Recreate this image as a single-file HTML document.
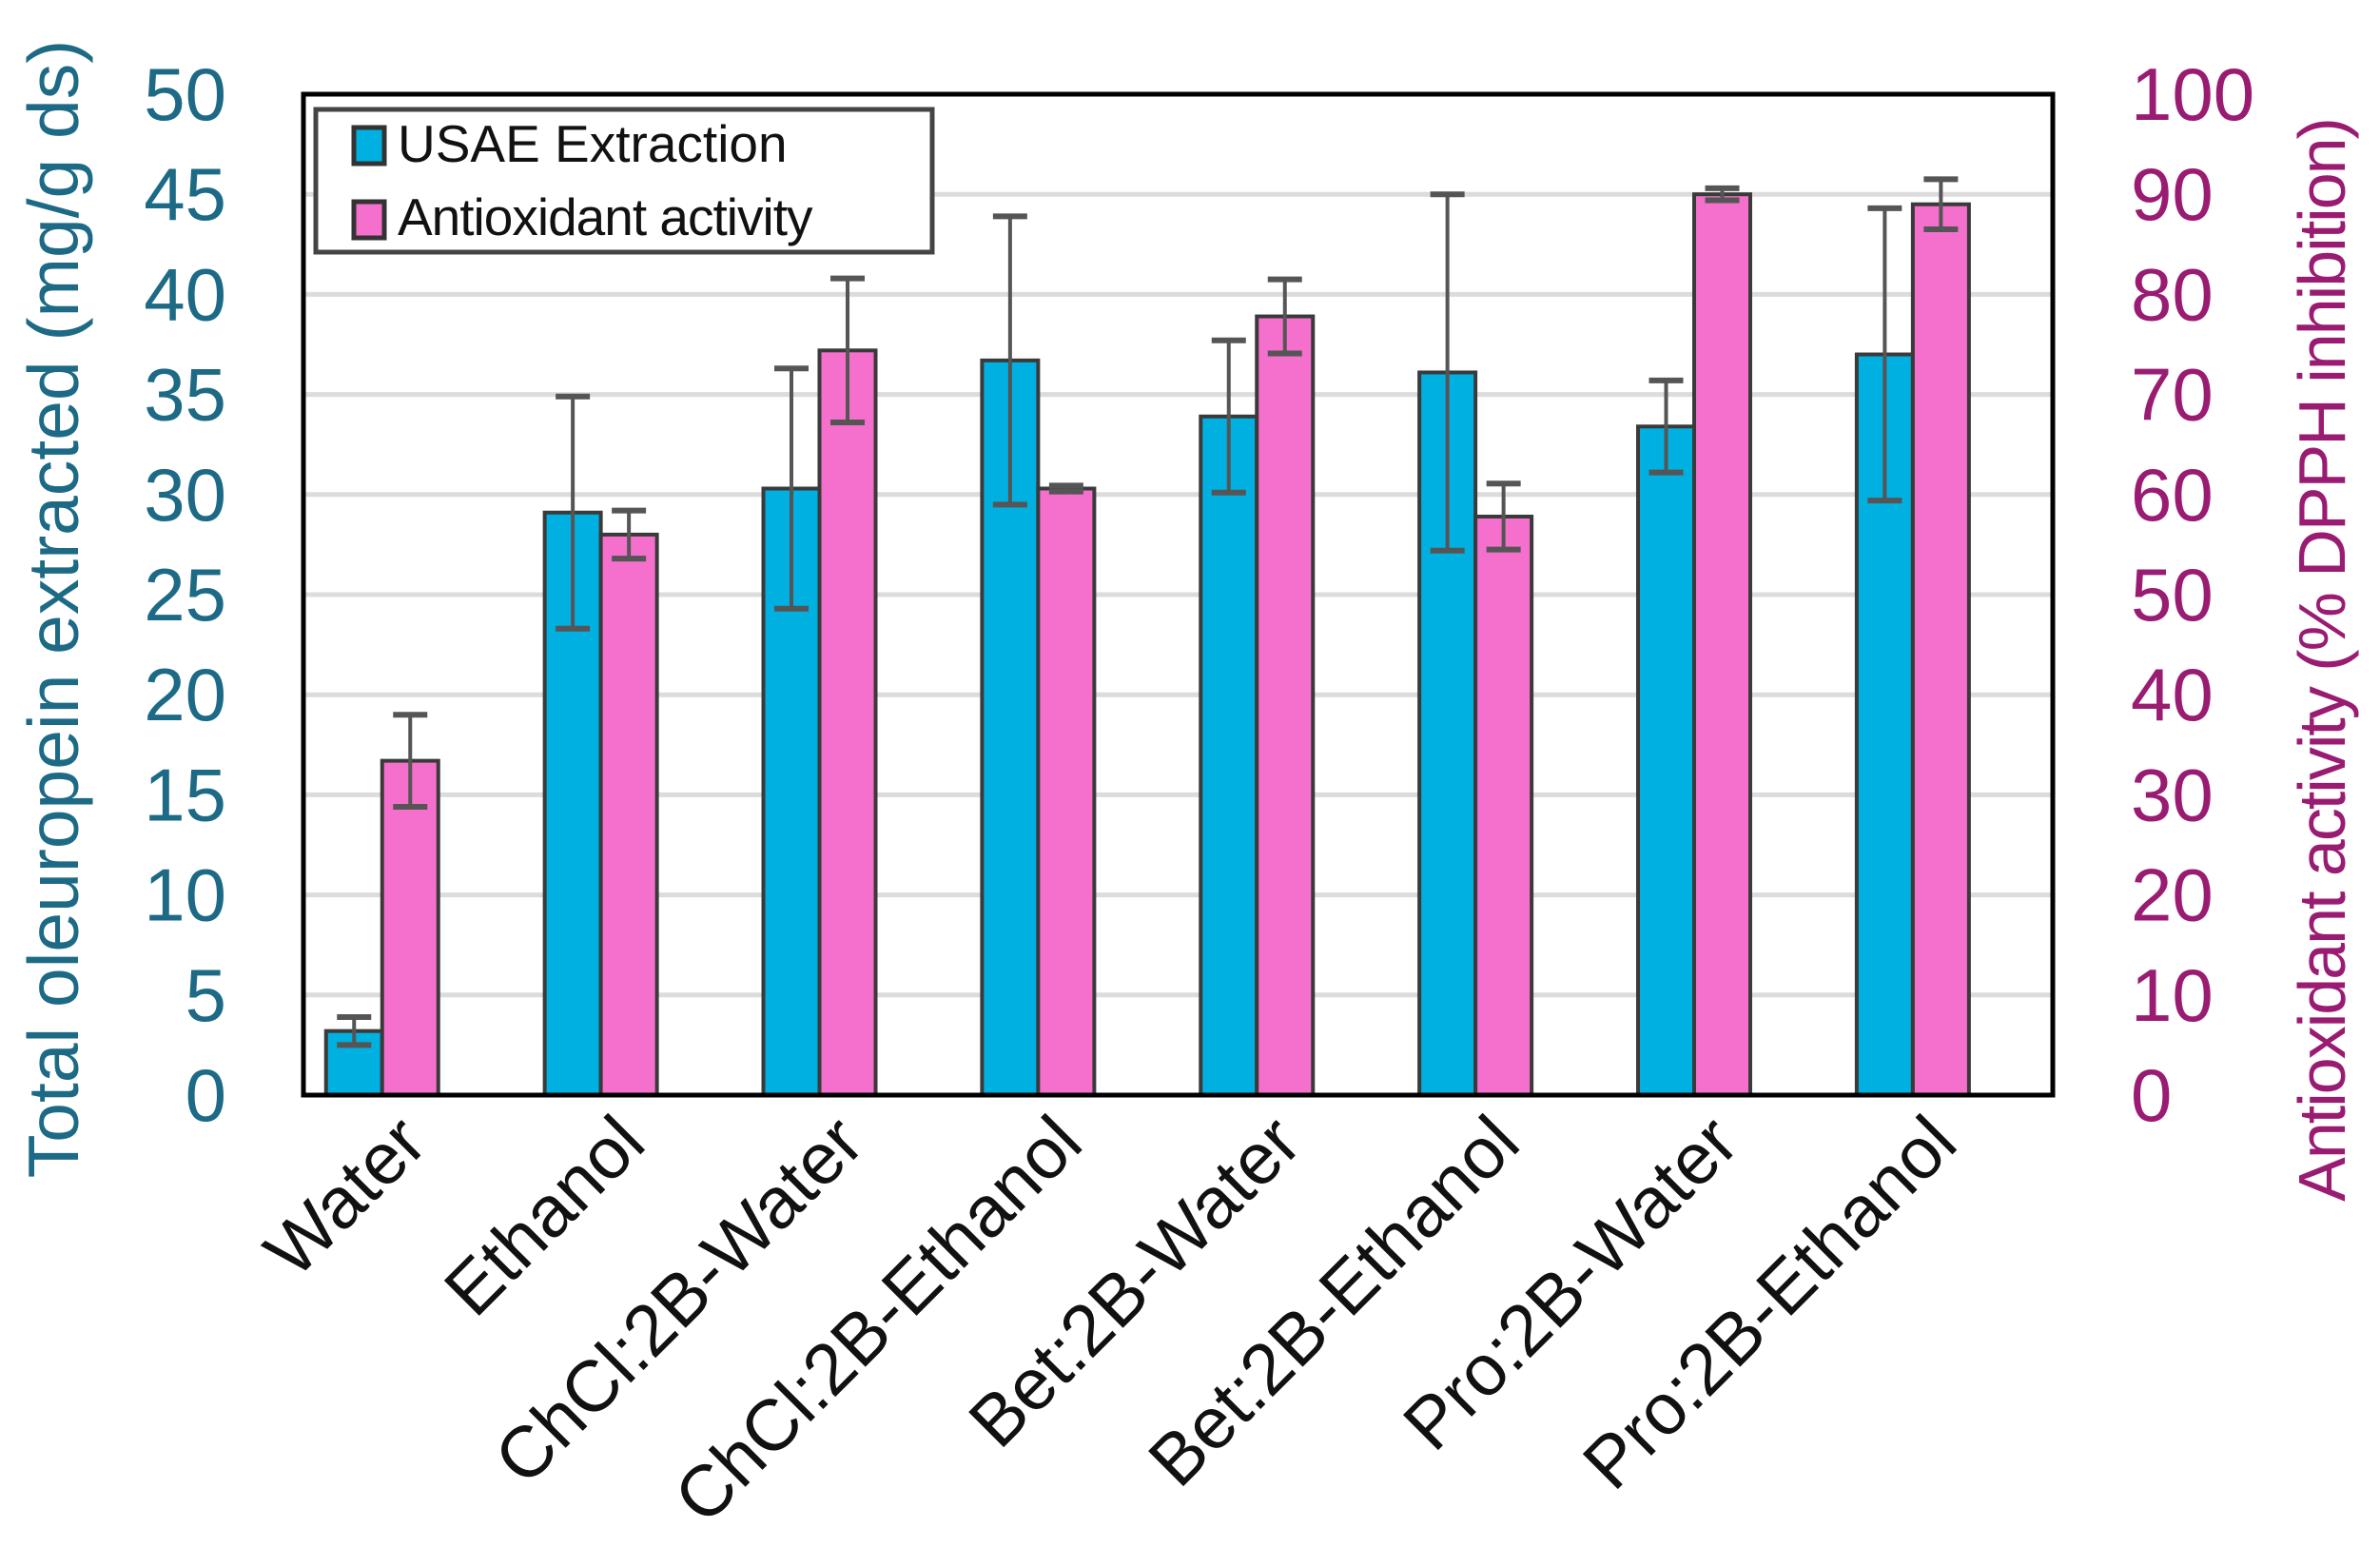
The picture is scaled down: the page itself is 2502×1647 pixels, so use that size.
<!DOCTYPE html>
<html><head><meta charset="utf-8"><style>
html,body{margin:0;padding:0;background:#fff}
svg{display:block}
text{font-family:"Liberation Sans",sans-serif}
</style></head><body>
<svg id="chart" width="2502" height="1647" viewBox="0 0 2502 1647" xmlns="http://www.w3.org/2000/svg">
<rect x="0" y="0" width="2502" height="1647" fill="#fff"/>
<g id="grid"></g>
<g id="bars"></g>
<rect x="319" y="99" width="1839" height="1052" fill="none" stroke="#000" stroke-width="5"/>
<g id="axes"></g>
<text transform="translate(82,640) rotate(-90)" text-anchor="middle" font-size="75" fill="#1d6a86">Total oleuropein extracted (mg/g ds)</text>
<text transform="translate(2465,694) rotate(-90)" text-anchor="middle" font-size="70" fill="#9a1c72" letter-spacing="-2">Antioxidant activity (% DPPH inhibition)</text>
<g>
<rect x="332" y="115" width="648" height="150" fill="#fff" stroke="#444" stroke-width="5"/>
<rect x="372" y="134" width="32" height="38" fill="#00b0e0" stroke="#333" stroke-width="5"/>
<text x="418" y="170" font-size="55" fill="#111">USAE Extraction</text>
<rect x="372" y="212" width="32" height="38" fill="#f470cc" stroke="#333" stroke-width="5"/>
<text x="418" y="247" font-size="55" fill="#111" letter-spacing="-1">Antioxidant activity</text>
</g>
</svg>
<script>
const categories = ["Water","Ethanol","ChCl:2B-Water","ChCl:2B-Ethanol","Bet:2B-Water","Bet:2B-Ethanol","Pro:2B-Water","Pro:2B-Ethanol"];
const usaeValues = [3.2,29.1,30.3,36.7,33.9,36.1,33.4,37.0];
const usaeErrors = [0.7,5.8,6.0,7.2,3.8,8.9,2.3,7.3];
const antioxValues = [33.4,56.0,74.4,60.6,77.8,57.8,90.0,89.0];
const antioxErrors = [4.6,2.4,7.2,0.3,3.7,3.3,0.6,2.5];
const leftTicks = [0,5,10,15,20,25,30,35,40,45,50];
const rightTicks = [0,10,20,30,40,50,60,70,80,90,100];

const NS="http://www.w3.org/2000/svg";
const L=319,R=2158,T=99,B=1151;
const yL=v=>B-(v/50)*(B-T);
const yR=v=>B-(v/100)*(B-T);
const band=(R-L)/categories.length;
const xC=i=>L+band*(i+0.36);
const bw=59;
function mk(tag,attrs,parent){const e=document.createElementNS(NS,tag);for(const k in attrs)e.setAttribute(k,attrs[k]);parent.appendChild(e);return e;}
const grid=document.getElementById('grid'),bars=document.getElementById('bars'),axes=document.getElementById('axes');
leftTicks.forEach((t,i)=>{
  if(t>0&&t<50){const g=mk('line',{x1:L,x2:R,y1:yL(t),y2:yL(t),stroke:'#dcdcdc','stroke-width':5},grid);
  
  }
  const tx=mk('text',{x:238,y:yL(t)+27,'text-anchor':'end','font-size':78,fill:'#1d6a86'},axes);
  tx.textContent=t;
  
  
});
rightTicks.forEach(t=>{
  const tx=mk('text',{x:2240,y:yR(t)+27,'font-size':78,fill:'#9a1c72'},axes);
  tx.textContent=t;
  
  
});
function errBar(x,top,bot){
  const g=mk('g',{stroke:'#555','stroke-width':4},bars);
  
  
  mk('line',{x1:x,x2:x,y1:top,y2:bot},g);
  mk('line',{x1:x-18,x2:x+18,y1:top,y2:top,'stroke-width':6},g);
  mk('line',{x1:x-18,x2:x+18,y1:bot,y2:bot,'stroke-width':6},g);
}
categories.forEach((c,i)=>{
  const cx=xC(i);
  const b1=mk('rect',{x:cx-bw,y:yL(usaeValues[i]),width:bw,height:B-yL(usaeValues[i]),fill:'#00b0e0',stroke:'#3a3a3a','stroke-width':4},bars);
  
  
  const b2=mk('rect',{x:cx,y:yR(antioxValues[i]),width:bw,height:B-yR(antioxValues[i]),fill:'#f470cc',stroke:'#3a3a3a','stroke-width':4},bars);
  
  
  errBar(cx-bw/2,yL(usaeValues[i]+usaeErrors[i]),yL(usaeValues[i]-usaeErrors[i]));
  errBar(cx+bw/2,yR(antioxValues[i]+antioxErrors[i]),yR(antioxValues[i]-antioxErrors[i]));
  const tx=mk('text',{transform:`translate(${cx+50},${1205}) rotate(-45)`,'text-anchor':'end','font-size':76,fill:'#111'},axes);
  tx.textContent=c;
  
  
});
</script>
</body></html>
